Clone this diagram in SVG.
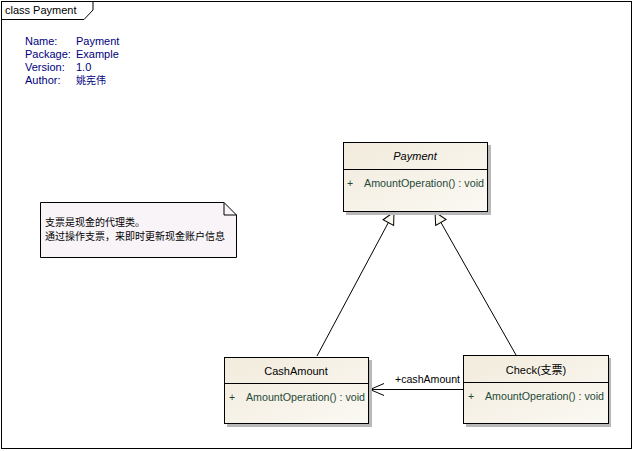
<svg xmlns="http://www.w3.org/2000/svg" width="634" height="451" viewBox="0 0 634 451">
<style>
.t{font-family:"Liberation Sans",Arial,sans-serif;font-size:11px;}
.s{font-size:10.5px;}
.cjk{font-family:"Liberation Sans","Noto Sans CJK SC",sans-serif;font-size:11px;}
.n{font-size:10px;}
.hdr{fill:#000;text-anchor:middle;}
.op{fill:#1f4a38;}
.meta{fill:#000080;}
.box{fill:url(#g);stroke:#000;stroke-width:1;}
.shadow{fill:#b8b8b8;}
.ln{stroke:#000;stroke-width:1;fill:none;}
</style>
<defs>
<linearGradient id="g" x1="0" y1="0" x2="1" y2="1">
<stop offset="0" stop-color="#f2ebdc"/>
<stop offset="1" stop-color="#fbf9f4"/>
</linearGradient>
<marker id="gen" markerWidth="14" markerHeight="14" refX="13" refY="7" orient="auto" markerUnits="userSpaceOnUse">
<path d="M1,1 L13,7 L1,13 Z" fill="#fbf8f0" stroke="#000" stroke-width="1"/>
</marker>
<marker id="open" markerWidth="16" markerHeight="14" refX="15" refY="7" orient="auto" markerUnits="userSpaceOnUse">
<path d="M1,1 L15,7 L1,13" fill="none" stroke="#000" stroke-width="1"/>
</marker>
</defs>
<rect width="634" height="451" fill="#fff"/>
<g id="frame">
<rect x="1.5" y="1.5" width="630" height="447" fill="none" stroke="#000"/>
<path d="M1.5,19.5 H84 L93,10 V1.5" fill="none" stroke="#000"/>
<text class="t" x="5" y="14" fill="#000">class Payment</text>
</g>
<g id="meta" class="t meta">
<text x="25" y="45">Name:</text><text x="76" y="45">Payment</text>
<text x="25" y="58">Package:</text><text x="76" y="58">Example</text>
<text x="25" y="71">Version:</text><text x="76" y="71">1.0</text>
<text x="25" y="84">Author:</text><text class="cjk n" x="76" y="84" fill="#000080">姚宪伟</text>
</g>
<g id="note">
<path d="M40.5,202.5 H224 L236.5,215 V257.5 H40.5 Z" fill="#f8f4f8" stroke="#000"/>
<path d="M224,202.5 V215 H236.5" fill="none" stroke="#000"/>
<text class="cjk n" x="45" y="226" fill="#000">支票是现金的代理类。</text>
<text class="cjk n" x="45" y="240" fill="#000">通过操作支票，来即时更新现金账户信息</text>
</g>
<g id="connectors">
<line class="ln" x1="317" y1="356" x2="394" y2="212" marker-end="url(#gen)"/>
<line class="ln" x1="516" y1="355" x2="435" y2="212" marker-end="url(#gen)"/>
<line class="ln" x1="463" y1="389.5" x2="370" y2="389.5" marker-end="url(#open)"/>
<text class="t s" x="395" y="383" fill="#000" textLength="65" lengthAdjust="spacingAndGlyphs">+cashAmount</text>
</g>
<g id="Payment">
<rect class="shadow" x="346" y="145" width="145" height="70"/>
<rect class="box" x="343.5" y="142.5" width="144" height="69"/>
<line class="ln" x1="343.5" y1="169.5" x2="487.5" y2="169.5"/>
<text class="t hdr" x="415" y="160" font-style="italic">Payment</text>
<text class="t s op" x="347" y="187">+</text>
<text class="t s op" x="364" y="187" textLength="120" lengthAdjust="spacingAndGlyphs">AmountOperation() : void</text>
</g>
<g id="CashAmount">
<rect class="shadow" x="227" y="360" width="145" height="67"/>
<rect class="box" x="224.5" y="357.5" width="144" height="66"/>
<line class="ln" x1="224.5" y1="383.5" x2="368.5" y2="383.5"/>
<text class="t hdr" x="296" y="375">CashAmount</text>
<text class="t s op" x="229" y="401">+</text>
<text class="t s op" x="246" y="401" textLength="119" lengthAdjust="spacingAndGlyphs">AmountOperation() : void</text>
</g>
<g id="Check">
<rect class="shadow" x="466" y="358" width="145" height="69"/>
<rect class="box" x="463.5" y="355.5" width="145" height="68"/>
<line class="ln" x1="463.5" y1="382.5" x2="608.5" y2="382.5"/>
<text class="cjk hdr" x="536" y="374">Check(支票)</text>
<text class="t s op" x="468" y="400">+</text>
<text class="t s op" x="485" y="400" textLength="119" lengthAdjust="spacingAndGlyphs">AmountOperation() : void</text>
</g>
</svg>
